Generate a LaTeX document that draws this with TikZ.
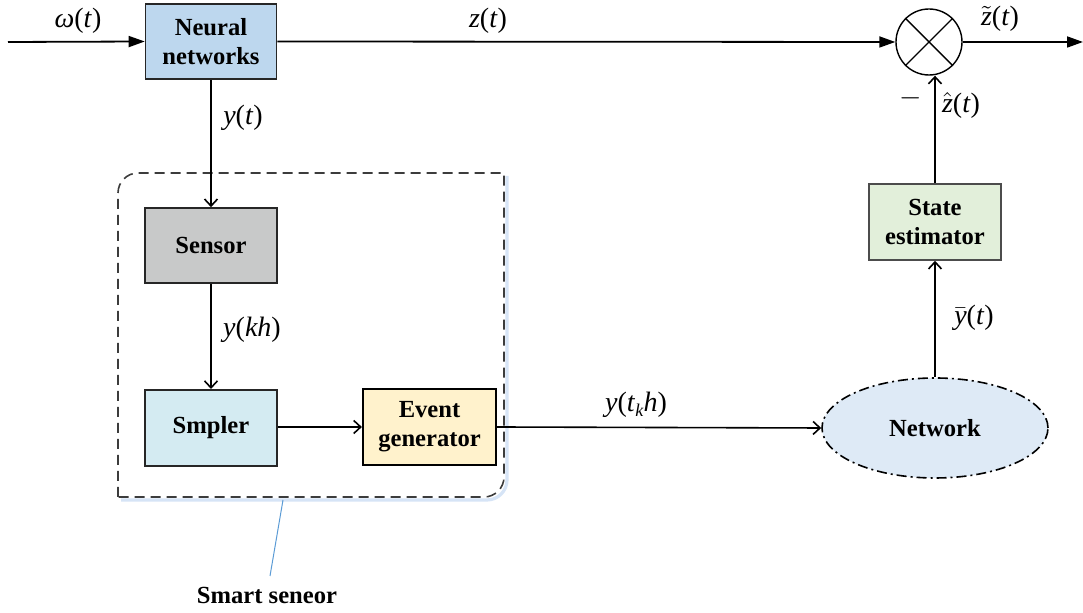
\documentclass[tikz,border=0pt]{standalone}
\usepackage{fontspec}
\setmainfont{Liberation Serif}
\usetikzlibrary{arrows.meta,calc,shapes.geometric}

\definecolor{nnblue}{RGB}{189,215,238}
\definecolor{sensgray}{RGB}{200,201,201}
\definecolor{smpcyan}{RGB}{212,235,242}
\definecolor{evyellow}{RGB}{255,242,204}
\definecolor{stgreen}{RGB}{226,239,218}
\definecolor{netblue}{RGB}{222,234,246}
\definecolor{leader}{RGB}{91,155,213}
\definecolor{frame}{RGB}{60,60,60}
\definecolor{glow}{RGB}{214,228,246}

\newcommand{\mv}[1]{\textit{#1}}

\tikzset{
  blk/.style={draw=black!85, line width=0.8pt, inner sep=0pt, align=center,
    font=\fontsize{12.3}{14.5}\selectfont\bfseries},
  lbl/.style={font=\fontsize{14}{16}\selectfont, anchor=base, inner sep=0pt},
  sig/.style={line width=0.8pt, -{Straight Barb[length=3.5pt,width=6.5pt]}},
  mainsig/.style={line width=0.9pt, -{Triangle[length=8pt,width=5.5pt]}},
}

\begin{document}
\begin{tikzpicture}[x=0.5pt,y=-0.5pt]
\useasboundingbox (0,0) rectangle (1083,613);

% smart sensor enclosure: soft blue shadow, then dashed frame
\draw[glow, line width=1.6pt]
  (121,500) -- (487,500) .. controls (498,500) and (507,491) .. (507,480) -- (507,176);
\draw[frame, line width=0.8pt, dash pattern=on 5pt off 3pt]
  (118,497) -- (118,193) .. controls (118,182) and (127,173) .. (138,173)
  -- (504,173) -- (504,477) .. controls (504,488) and (495,497) .. (484,497) -- cycle;

% blocks
\node[blk, fill=nnblue, minimum width=65.5pt, minimum height=37.5pt] (nn) at (211,41.5) {Neural\\networks};
\node[blk, fill=sensgray, minimum width=66pt, minimum height=37.5pt] (sensor) at (211,245.5) {Sensor};
\node[blk, fill=smpcyan, minimum width=66pt, minimum height=38pt, line width=1pt] (smp) at (211,428) {Smpler};
\node[blk, fill=evyellow, minimum width=66.5pt, minimum height=38pt, draw=black, line width=1.1pt] (ev) at (429.5,427) {Event\\generator};
\node[blk, fill=stgreen, draw=black!70, minimum width=66pt, minimum height=38pt] (st) at (935,222) {State\\estimator};
\node[blk, ellipse, fill=netblue, draw=black, line width=0.8pt,
  dash pattern=on 5pt off 2pt on 1pt off 2pt,
  minimum width=113pt, minimum height=50pt] (net) at (935,428) {Network};

% multiplier
\node[circle, draw=black, line width=0.7pt, minimum size=33pt, inner sep=0pt] (mul) at (929,42) {};
\draw[line width=0.7pt] (mul.45) -- (mul.225) (mul.135) -- (mul.315);

% signal paths
\coordinate (in) at (8,42);
\coordinate (out) at (1083,42);
\draw[mainsig] (in) -- (nn.west);
\draw[mainsig] (nn.east) -- (mul.west);
\draw[mainsig] (mul.east) -- (out);
\draw[sig] (nn.south) -- (sensor.north);
\draw[sig] (sensor.south) -- (smp.north);
\draw[sig] (smp.east |- ev.west) -- (ev.west);
\draw[sig] (ev.east) -- (net.west);
\draw[sig] (net.north) -- (st.south);
\draw[sig] (st.north) -- (st.north |- mul.south);

% signal labels
\node[lbl] (lw) at (78,28) {\mv{ω}(\mv{t})};
\node[lbl] (lz) at (488,28) {\mv{z}(\mv{t})};
\node[lbl] (lzt) at (1000,26) {$\tilde{\mbox{\mv{z}}}$(\mv{t})};
\node[lbl] (lminus) at (911,106) {$-$};
\node[lbl] (lzh) at (961,113) {$\hat{\mbox{\mv{z}}}$(\mv{t})};
\node[lbl] (ly) at (243,125) {\mv{y}(\mv{t})};
\node[lbl] (lykh) at (252,337) {\mv{y}(\mv{kh})};
\node[lbl] (lyb) at (974,325) {$\bar{\mbox{\mv{y}}}$(\mv{t})};
\node[lbl] (lytk) at (636,412) {\mv{y}(\mv{t}\raisebox{-0.35ex}{\fontsize{9}{10}\selectfont\mv{k}}\mv{h})};

% enclosure caption with leader
\node[font=\fontsize{12.3}{14.5}\selectfont\bfseries, anchor=base, inner sep=0pt] (cap) at (267,604) {Smart seneor};
\coordinate (capTop) at (270,576);
\coordinate (frameHit) at (283,500);
\draw[leader, line width=0.5pt] (frameHit) -- (capTop);
\end{tikzpicture}
\end{document}
